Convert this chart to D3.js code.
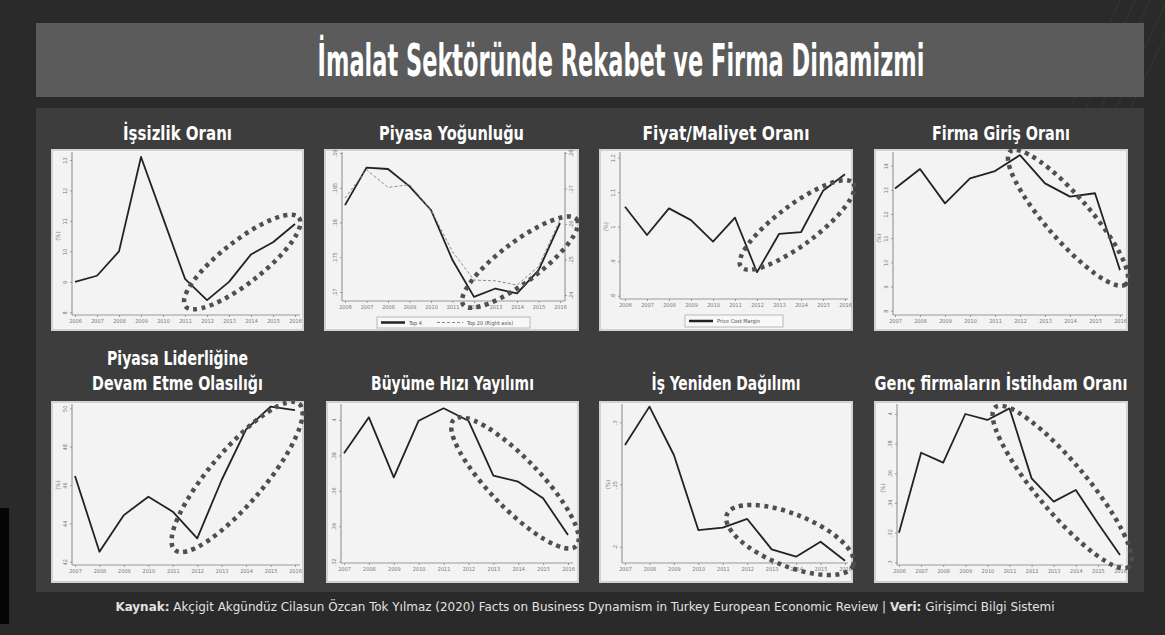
<!DOCTYPE html>
<html><head><meta charset="utf-8">
<script src="https://cdn.jsdelivr.net/npm/d3@7"></script>
<style>html,body{margin:0;padding:0;background:#2b2b2b;}svg{display:block}</style>
</head><body>
<svg id="c" width="1165" height="635"></svg>
<script>
// ---------------- DATA ----------------
const years0616 = [2006, 2007, 2008, 2009, 2010, 2011, 2012, 2013, 2014, 2015, 2016];
const years0716 = [2007, 2008, 2009, 2010, 2011, 2012, 2013, 2014, 2015, 2016];

const unemployment = [9.0, 9.2, 10.0, 13.1, 11.1, 9.1, 8.4, 9.0, 9.9, 10.3, 10.9];
const top4Share = [0.1825, 0.1879, 0.1877, 0.1852, 0.1818, 0.1746, 0.1693, 0.1705, 0.1698, 0.1731, 0.1799];
const top20Share = [0.2673, 0.2753, 0.2703, 0.2711, 0.2640, 0.2522, 0.2442, 0.2440, 0.2428, 0.2480, 0.2612];
const priceCostMargin = [1.058, 0.976, 1.053, 1.019, 0.957, 1.026, 0.868, 0.979, 0.984, 1.104, 1.152];
const entryRate = [13.06, 13.86, 12.44, 13.48, 13.78, 14.44, 13.27, 12.72, 12.86, 9.68];
const leaderPersistence = [46.47, 42.52, 44.43, 45.39, 44.61, 43.22, 46.26, 48.9, 50.09, 49.91];
const growthDispersion = [0.3812, 0.4015, 0.3676, 0.3996, 0.4066, 0.3996, 0.3686, 0.3652, 0.3558, 0.3351];
const jobReallocation = [0.2818, 0.3126, 0.2737, 0.2134, 0.2153, 0.2223, 0.1979, 0.1920, 0.2040, 0.1887];
const youngFirmEmployment = [0.320, 0.3739, 0.3672, 0.400, 0.396, 0.4038, 0.3566, 0.3409, 0.3488, 0.3263, 0.3049];

const unemploymentTicks = [8, 9, 10, 11, 12, 13];
const top4Ticks = [0.17, 0.175, 0.18, 0.185, 0.19];
const top20Ticks = [0.24, 0.25, 0.26, 0.27, 0.28];
const pcmTicks = [0.8, 0.9, 1, 1.1, 1.2];
const entryTicks = [8, 9, 10, 11, 12, 13, 14];
const leaderTicks = [42, 44, 46, 48, 50];
const growthTicks = [0.32, 0.34, 0.36, 0.38, 0.40];
const jobTicks = [0.2, 0.25, 0.3];
const youngTicks = [0.30, 0.32, 0.34, 0.36, 0.38, 0.40];

const mainTitle = "İmalat Sektöründe Rekabet ve Firma Dinamizmi";
const panelTitles = [
  ["İşsizlik Oranı"], ["Piyasa Yoğunluğu"], ["Fiyat/Maliyet Oranı"], ["Firma Giriş Oranı"],
  ["Piyasa Liderliğine", "Devam Etme Olasılığı"], ["Büyüme Hızı Yayılımı"],
  ["İş Yeniden Dağılımı"], ["Genç firmaların İstihdam Oranı"]
];
const legendTop4 = "Top 4";
const legendTop20 = "Top 20 (Right axis)";
const legendPcm = "Price Cost Margin";
const yAxisTitle = "(%)";
const footerParts = [
  ["Kaynak:", true],
  [" Akçigit  Akgündüz Cilasun Özcan Tok Yılmaz (2020) Facts on Business Dynamism in Turkey European Economic Review | ", false],
  ["Veri:", true],
  [" Girişimci Bilgi Sistemi", false]
];
// highlight ellipses (centre in data units)
const highlights = [
  {cx: 2013.6, cy: 9.65, rx: 72, ry: 21, angle: -38},
  {cx: 2014.14, cy: 0.1743, rx: 71, ry: 20, angle: -37},
  {cx: 2013.82, cy: 1.005, rx: 70, ry: 20, angle: -36.7},
  {cx: 2013.92, cy: 11.84, rx: 88, ry: 22, angle: 49},
  {cx: 2013.63, cy: 46.42, rx: 96, ry: 27, angle: -49.6},
  {cx: 2013.87, cy: 0.3645, rx: 88, ry: 25, angle: 46},
  {cx: 2013.75, cy: 0.2054, rx: 68, ry: 26, angle: 22},
  {cx: 2013.38, cy: 0.3508, rx: 104, ry: 25, angle: 50}
];

// ---------------- LAYOUT ----------------
const FONT = "'Liberation Sans Narrow','DejaVu Sans Condensed','Roboto',sans-serif";
const TICKFONT = "'DejaVu Sans Condensed','DejaVu Sans',sans-serif";
const stata = d => String(+d.toFixed(4)).replace(/^0\./, '.');

const panels = [
  {rect: [52, 150, 251, 180], axisX: 72, axisY: 315, plotTop: 152, plotRight: 300, x0: 75, x1: 295, yRange: [312.3, 160],
   years: years0616, series: [{values: unemployment, type: 'solid'}], ticks: unemploymentTicks, titleW: [109], yTitle: true},
  {rect: [325, 150, 253, 180], axisX: 342, axisY: 301, plotTop: 152, plotRight: 565, x0: 345, x1: 560, yRange: [292, 153],
   years: years0616, series: [{values: top4Share, type: 'solid'}, {values: top20Share, type: 'dash', right: true}],
   ticks: top4Ticks, ticks2: top20Ticks, yRange2: [295, 153], rightAxisX: 565, titleW: [145],
   legend: {box: [377, 317, 153, 11], items: [{x: 381, w: 24, type: 'solid', label: legendTop4}, {x: 437, w: 26, type: 'dash', label: legendTop20}]}},
  {rect: [600, 150, 252, 180], axisX: 620, axisY: 299, plotTop: 152, plotRight: 848, x0: 625, x1: 845, yRange: [295.7, 157.7],
   years: years0616, series: [{values: priceCostMargin, type: 'solid'}], ticks: pcmTicks, titleW: [167], yTitle: true,
   legend: {box: [685, 315, 98, 12], items: [{x: 689, w: 24, type: 'solid', label: legendPcm}]}},
  {rect: [875, 150, 252, 180], axisX: 893, axisY: 315, plotTop: 152, plotRight: 1123, x0: 895, x1: 1120, yRange: [310.7, 165.7],
   years: years0716, series: [{values: entryRate, type: 'solid'}], ticks: entryTicks, titleW: [138], yTitle: true},
  {rect: [52, 402, 251, 180], axisX: 72, axisY: 565, plotTop: 404, plotRight: 300, x0: 75, x1: 295, yRange: [561.7, 408.3],
   years: years0716, series: [{values: leaderPersistence, type: 'solid'}], ticks: leaderTicks, titleW: [141, 171], yTitle: true},
  {rect: [327, 402, 251, 180], axisX: 341, axisY: 563, plotTop: 404, plotRight: 573, x0: 344, x1: 568, yRange: [561.7, 420],
   years: years0716, series: [{values: growthDispersion, type: 'solid'}], ticks: growthTicks, titleW: [163]},
  {rect: [600, 402, 252, 180], axisX: 622, axisY: 563, plotTop: 404, plotRight: 848, x0: 625, x1: 845, yRange: [546.7, 422.3],
   years: years0716, series: [{values: jobReallocation, type: 'solid'}], ticks: jobTicks, titleW: [149], yTitle: true},
  {rect: [875, 402, 252, 180], axisX: 897, axisY: 565, plotTop: 404, plotRight: 1123, x0: 899, x1: 1120, yRange: [562.3, 414],
   years: years0616, series: [{values: youngFirmEmployment, type: 'solid'}], ticks: youngTicks, titleW: [253], yTitle: true}
];
const titleBaselines = {row1: [140], row2one: [390], row2two: [365, 390]};

// ---------------- DRAW ----------------
const svg = d3.select('#c');
svg.append('rect').attr('width', 1165).attr('height', 635).attr('fill', '#2a2a2a');

// faint decorative streaks
const deco = svg.append('g').attr('stroke', '#3a3a3a').attr('stroke-width', 1).attr('opacity', 0.8);
[[1100, 110, 1150, 0], [1115, 110, 1165, 5], [1130, 110, 1165, 35], [1085, 110, 1135, 0], [1070, 110, 1120, 0]].forEach(l =>
  deco.append('line').attr('x1', l[0]).attr('y1', l[1]).attr('x2', l[2]).attr('y2', l[3]));

function fitText(sel, cx, w) {
  const bw = sel.node().getBBox().width;
  const s = w / bw;
  sel.attr('transform', `translate(${cx},0) scale(${s},1) translate(${-cx},0)`);
}

// title box
svg.append('rect').attr('x', 36).attr('y', 23).attr('width', 1108).attr('height', 74).attr('fill', '#5b5b5b');
const tt = svg.append('text').attr('x', 621).attr('y', 76).attr('text-anchor', 'middle')
  .attr('font-family', FONT).attr('font-weight', 'bold').attr('font-size', 44).attr('fill', '#ffffff').text(mainTitle);
fitText(tt, 621, 607);

// panel region
svg.append('rect').attr('x', 36).attr('y', 108).attr('width', 1108).attr('height', 484).attr('fill', '#3d3d3d');

// left watermark strip
svg.append('rect').attr('x', 0).attr('y', 508).attr('width', 9).attr('height', 116).attr('fill', '#050505');

const overlay = svg.append('g');

panels.forEach((p, i) => {
  const g = svg.append('g');
  const [rx, ry, rw, rh] = p.rect;
  g.append('rect').attr('x', rx).attr('y', ry).attr('width', rw).attr('height', rh)
    .attr('fill', '#f3f3f3').attr('stroke', '#d2d2d2').attr('stroke-width', 2);

  // titles
  const cx = rx + rw / 2;
  const lines = panelTitles[i];
  const bases = i < 4 ? titleBaselines.row1 : (lines.length === 2 ? titleBaselines.row2two : titleBaselines.row2one);
  lines.forEach((ln, k) => {
    const t = svg.append('text').attr('x', cx).attr('y', bases[k]).attr('text-anchor', 'middle')
      .attr('font-family', FONT).attr('font-weight', 'bold').attr('font-size', 19).attr('fill', '#ffffff').text(ln);
    fitText(t, cx, p.titleW[k]);
  });

  const x = d3.scaleLinear().domain([p.years[0], p.years[p.years.length - 1]]).range([p.x0, p.x1]);
  const y = d3.scaleLinear().domain([p.ticks[0], p.ticks[p.ticks.length - 1]]).range(p.yRange);
  const y2 = p.ticks2 ? d3.scaleLinear().domain([p.ticks2[0], p.ticks2[p.ticks2.length - 1]]).range(p.yRange2) : null;

  // axis lines
  g.append('line').attr('x1', p.axisX).attr('x2', p.axisX).attr('y1', p.plotTop).attr('y2', p.axisY)
    .attr('stroke', '#9a9a9a').attr('stroke-width', 1.2);
  g.append('line').attr('x1', p.axisX).attr('x2', p.plotRight).attr('y1', p.axisY).attr('y2', p.axisY)
    .attr('stroke', '#9a9a9a').attr('stroke-width', 1.2);
  if (p.rightAxisX) {
    g.append('line').attr('x1', p.rightAxisX).attr('x2', p.rightAxisX).attr('y1', p.plotTop).attr('y2', p.axisY)
      .attr('stroke', '#9a9a9a').attr('stroke-width', 1.2);
  }

  const styleAxis = sel => {
    sel.select('.domain').remove();
    sel.selectAll('line').attr('stroke', '#9a9a9a');
    sel.selectAll('text').attr('font-family', TICKFONT).attr('font-size', 5.5).attr('fill', '#777');
  };
  // x axis
  g.append('g').attr('transform', `translate(0,${p.axisY})`)
    .call(d3.axisBottom(x).tickValues(p.years).tickFormat(d3.format('d')).tickSize(2).tickPadding(2))
    .call(styleAxis);
  // y axis (rotated labels)
  const ya = g.append('g').attr('transform', `translate(${p.axisX},0)`)
    .call(d3.axisLeft(y).tickValues(p.ticks).tickFormat(stata).tickSize(2))
    .call(styleAxis);
  ya.selectAll('.tick text').attr('transform', 'rotate(-90)').attr('x', 0).attr('y', -5).attr('dy', 0)
    .attr('text-anchor', 'middle');
  if (y2) {
    const yb = g.append('g').attr('transform', `translate(${p.rightAxisX},0)`)
      .call(d3.axisRight(y2).tickValues(p.ticks2).tickFormat(stata).tickSize(2))
      .call(styleAxis);
    yb.selectAll('.tick text').attr('transform', 'rotate(-90)').attr('x', 0).attr('y', 8).attr('dy', 0)
      .attr('text-anchor', 'middle');
  }
  if (p.yTitle) {
    const my = (p.yRange[0] + p.yRange[1]) / 2;
    g.append('text').attr('transform', `translate(${p.axisX - 12},${my}) rotate(-90)`).attr('text-anchor', 'middle')
      .attr('font-family', TICKFONT).attr('font-size', 6).attr('fill', '#888').text(yAxisTitle);
  }

  // series
  p.series.forEach(s => {
    const sc = s.right ? y2 : y;
    const line = d3.line().x((d, j) => x(p.years[j])).y(d => sc(d));
    g.append('path').datum(s.values).attr('d', line).attr('fill', 'none')
      .attr('stroke', s.type === 'dash' ? '#8a8a8a' : '#222')
      .attr('stroke-width', s.type === 'dash' ? 1 : 1.8)
      .attr('stroke-dasharray', s.type === 'dash' ? '3 2' : null)
      .attr('stroke-linejoin', 'round');
  });

  // legend
  if (p.legend) {
    const [bx, by, bw, bh] = p.legend.box;
    g.append('rect').attr('x', bx).attr('y', by).attr('width', bw).attr('height', bh)
      .attr('fill', '#f8f8f8').attr('stroke', '#aaa').attr('stroke-width', 0.8);
    p.legend.items.forEach(it => {
      const ly = by + bh / 2;
      g.append('line').attr('x1', it.x).attr('x2', it.x + it.w).attr('y1', ly).attr('y2', ly)
        .attr('stroke', it.type === 'dash' ? '#8a8a8a' : '#222').attr('stroke-width', it.type === 'dash' ? 1 : 2.5)
        .attr('stroke-dasharray', it.type === 'dash' ? '3 2' : null);
      g.append('text').attr('x', it.x + it.w + 4).attr('y', ly + 2).attr('font-family', TICKFONT)
        .attr('font-size', 5.5).attr('fill', '#555').text(it.label);
    });
  }

  // highlight ellipse (drawn later on top)
  const h = highlights[i];
  overlay.append('ellipse').attr('cx', 0).attr('cy', 0).attr('rx', h.rx).attr('ry', h.ry)
    .attr('transform', `translate(${x(h.cx)},${y(h.cy)}) rotate(${h.angle})`)
    .attr('fill', 'none').attr('stroke', '#4f4f4f').attr('stroke-width', 4.5).attr('stroke-dasharray', '4 4.5');
});
overlay.raise();

// footer
const ft = svg.append('text').attr('x', 585).attr('y', 611).attr('text-anchor', 'middle')
  .attr('font-family', FONT).attr('font-size', 13).attr('fill', '#e2e2e2');
footerParts.forEach(fp => ft.append('tspan').attr('font-weight', fp[1] ? 'bold' : 'normal').text(fp[0]));
fitText(ft, 585, 940);
</script>
</body></html>
